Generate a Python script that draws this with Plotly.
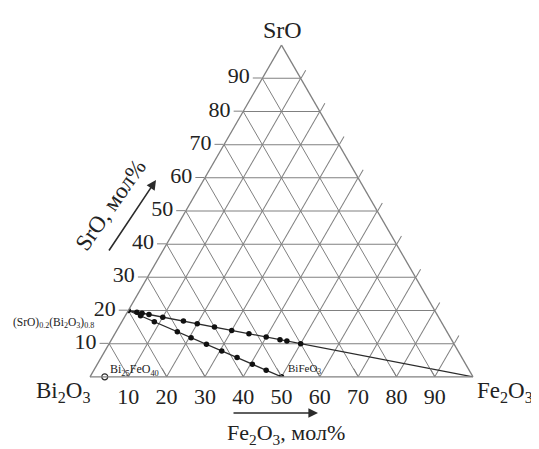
import plotly.graph_objects as go

# ---- data (mol %) ----
ticks = [10, 20, 30, 40, 50, 60, 70, 80, 90]
fe_tick_text = ["10", "20", "30", "40", "50", "60", "70", "80", "90"]

# line 1: (SrO)0.2(Bi2O3)0.8 -> Fe2O3
line1_sro = [20, 0]
line1_bi = [80, 0]
line1_fe = [0, 100]
pts1_sro = [20, 19.5, 19.2, 18.8, 18.0, 16.8, 16.0, 15.0, 14.0, 13.0, 12.0, 11.2, 10.8, 10.0]
pts1_fe = [0, 2.5, 4.0, 6.0, 10.0, 16.0, 20.0, 25.0, 30.0, 35.0, 40.0, 44.0, 46.0, 50.0]
pts1_bi = [100 - s - f for s, f in zip(pts1_sro, pts1_fe)]

# line 2: (SrO)0.2(Bi2O3)0.8 -> BiFeO3
line2_sro = [20, 0]
line2_bi = [80, 50]
line2_fe = [0, 50]
pts2_sro = [18.4, 16.6, 13.6, 11.8, 9.8, 7.8, 5.8, 3.8, 2.0, 0.0]
pts2_fe = [4.0, 8.5, 16.0, 20.5, 25.5, 30.5, 35.5, 40.5, 45.0, 50.0]
pts2_bi = [100 - s - f for s, f in zip(pts2_sro, pts2_fe)]

# Bi25FeO40
bi25_sro = [0]
bi25_bi = [96.15]
bi25_fe = [3.85]

FONT = "Liberation Serif"
GRID = "#808080"
DARK = "#2b2b2b"

OFF = 8  # page body margin
W, H = 539 - OFF, 449 - OFF
# triangle in screen pixels: left (90,377), right (473,377)
L, R, T, B = 90 - OFF, W - (473 - OFF), 45 - OFF, H - (377 - OFF)
PW, PH = W - L - R, H - T - B


def px(x, y):
    return (x - OFF - L) / PW, (H - B - (y - OFF)) / PH


fig = go.Figure()
fig.add_trace(go.Scatterternary(a=line1_sro, b=line1_bi, c=line1_fe, mode="lines",
                                line=dict(color=DARK, width=1.3), hoverinfo="skip"))
fig.add_trace(go.Scatterternary(a=line2_sro, b=line2_bi, c=line2_fe, mode="lines",
                                line=dict(color=DARK, width=1.3), hoverinfo="skip"))
fig.add_trace(go.Scatterternary(a=pts1_sro, b=pts1_bi, c=pts1_fe, mode="markers",
                                marker=dict(color="#111111", size=5.5)))
fig.add_trace(go.Scatterternary(a=pts2_sro, b=pts2_bi, c=pts2_fe, mode="markers",
                                marker=dict(color="#111111", size=5.5)))
fig.add_trace(go.Scatterternary(a=bi25_sro, b=bi25_bi, c=bi25_fe, mode="markers",
                                marker=dict(color="white", size=6, line=dict(color=DARK, width=1.2)),
                                cliponaxis=False))

axis_common = dict(min=0, showgrid=True, gridcolor=GRID, gridwidth=1.2,
                   linecolor=GRID, linewidth=1.3, ticks="outside", ticklen=9,
                   tickcolor=GRID, tickwidth=1.2, tickvals=ticks,
                   tickfont=dict(family=FONT, size=22, color="#222"),
                   title=dict(text=""))

fig.update_layout(
    width=W, height=H,
    margin=dict(l=L, r=R, t=T, b=B),
    paper_bgcolor="white",
    showlegend=False,
    ternary=dict(
        sum=100,
        bgcolor="white",
        domain=dict(x=[0, 1], y=[0, 1]),
        aaxis=dict(**axis_common),
        baxis=dict(**{**axis_common, "ticktext": fe_tick_text[::-1], "ticks": "inside"}),
        caxis=dict(**{**axis_common, "showticklabels": False}),
    ),
)

ann = []


def add_text(x, y, text, size, angle=0, xanchor="center"):
    xp, yp = px(x, y)
    ann.append(dict(x=xp, y=yp, xref="paper", yref="paper", text=text, showarrow=False,
                    font=dict(family=FONT, size=size, color="#222"), textangle=angle,
                    xanchor=xanchor, yanchor="middle"))


add_text(282, 30, "SrO", 24)
add_text(63, 392, "Bi<sub>2</sub>O<sub>3</sub>", 23)
add_text(505, 392, "Fe<sub>2</sub>O<sub>3</sub>", 23)
add_text(286, 434, "Fe<sub>2</sub>O<sub>3</sub>, мол%", 22)
add_text(110, 205, "SrO, мол%", 23, angle=-55)
add_text(96, 323, "(SrO)<sub>0.2</sub>(Bi<sub>2</sub>O<sub>3</sub>)<sub>0.8</sub>", 11.5, xanchor="right")
add_text(108, 370, "Bi<sub>25</sub>FeO<sub>40</sub>", 12, xanchor="left")
add_text(286, 369, "BiFeO<sub>3</sub>", 11, xanchor="left")

# arrows (screen pixel head, tail)
for (hx, hy), (tx, ty) in [((318, 413), (232, 413)), ((156, 180), (108, 252))]:
    xp, yp = px(hx, hy)
    ann.append(dict(x=xp, y=yp, xref="paper", yref="paper", text="", showarrow=True,
                    ax=tx - hx, ay=ty - hy, arrowhead=2, arrowsize=1.2, arrowwidth=1.6,
                    arrowcolor=DARK))

fig.update_layout(annotations=ann)
fig.write_html("out.html")
